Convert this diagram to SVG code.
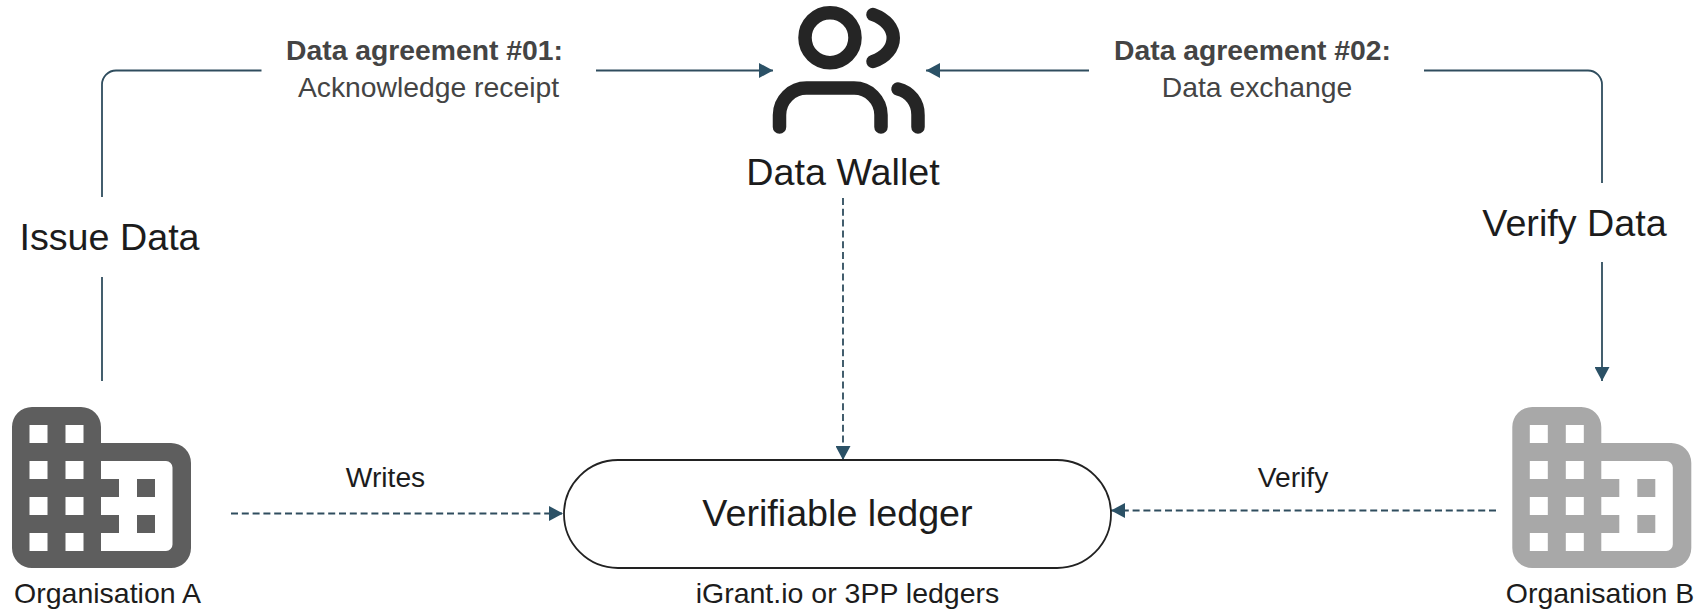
<svg xmlns="http://www.w3.org/2000/svg" width="1708" height="609" viewBox="0 0 1708 609">
<style>
text{font-family:"Liberation Sans",Arial,sans-serif;fill:#1c1c1c;text-anchor:middle}
.l{font-size:37.7px}.m{font-size:28.5px}.s{font-size:28.2px}
.h{font-size:28.3px;font-weight:bold;fill:#444}.g{font-size:28.3px;fill:#444}
.c{fill:none;stroke:#2f4d5e;stroke-width:1.8}
.d{stroke-dasharray:7 3.800}
.w{fill:#fff}
</style>
<defs>
<marker id="a" markerUnits="userSpaceOnUse" markerWidth="15" markerHeight="15" refX="14" refY="7.500" orient="auto"><path d="M0 0L14 7.500L0 15Z" fill="#2b5166"/></marker>
<g id="bld">
<path d="M12 427a20 20 0 0 1 20-20h49a20 20 0 0 1 20 20v16h70a20 20 0 0 1 20 20v85a20 20 0 0 1-20 20H32a20 20 0 0 1-20-20Z"/>
<path class="w" d="M101 461h65a6.500 6.500 0 0 1 6.500 6.500v77a6.500 6.500 0 0 1-6.500 6.500h-65v-18h18v-18h-18v-18h18v-18h-18Z"/>
<g class="w"><rect x="29.500" y="425" width="18" height="18"/><rect x="65.500" y="425" width="18" height="18"/><rect x="29.500" y="461" width="18" height="18"/><rect x="65.500" y="461" width="18" height="18"/><rect x="29.500" y="497" width="18" height="18"/><rect x="65.500" y="497" width="18" height="18"/><rect x="29.500" y="533" width="18" height="18"/><rect x="65.500" y="533" width="18" height="18"/></g>
<rect x="137" y="479" width="18" height="18"/><rect x="137" y="515" width="18" height="18"/>
</g>
</defs>
<rect width="1708" height="609" fill="#fff"/>
<g id="connectors">
<path class="c" d="M102 381V277"/>
<path class="c" d="M102 197V84.500a14 14 0 0 1 14-14H261.500"/>
<path class="c" d="M596 70.500H773" marker-end="url(#a)"/>
<path class="c" d="M1089 70.500H926" marker-end="url(#a)"/>
<path class="c" d="M1424 70.500h164a14 14 0 0 1 14 14V183"/>
<path class="c" d="M1602 262V381" marker-end="url(#a)"/>
<path class="c d" d="M843 198V460" marker-end="url(#a)"/>
<path class="c d" d="M231 513.500H563" marker-end="url(#a)"/>
<path class="c d" d="M1496 510.500H1111" marker-end="url(#a)"/>
</g>
<g id="org-a"><use href="#bld" fill="#5e5e5e"/><text class="m" x="107.500" y="603">Organisation A</text></g>
<g id="org-b"><use href="#bld" x="1500.300" fill="#a8a8a8"/><text class="m" x="1600" y="603">Organisation B</text></g>
<g id="wallet">
<g fill="none" stroke="#252525" stroke-width="13.500" stroke-linecap="round">
<circle cx="830" cy="37.700" r="25"/>
<path d="M873 14.500C900 24 900 52 873 61.500"/>
<path d="M779.500 127V115a27 27 0 0 1 27-27H854a27 27 0 0 1 27 27V127"/>
<path d="M898 89a26 26 0 0 1 20 26V127"/>
</g>
<text class="l" x="843" y="185">Data Wallet</text>
</g>
<g id="ledger">
<rect x="564" y="460" width="547" height="108" rx="54" fill="#fff" stroke="#222" stroke-width="1.800"/>
<text class="l" x="837.500" y="526">Verifiable ledger</text>
<text class="m" x="847.500" y="603">iGrant.io or 3PP ledgers</text>
</g>
<g id="labels">
<text class="h" x="424.500" y="60">Data agreement #01:</text>
<text class="g" x="428.500" y="97">Acknowledge receipt</text>
<text class="h" x="1252.500" y="60">Data agreement #02:</text>
<text class="g" x="1257" y="97">Data exchange</text>
<text class="l" x="109.500" y="250">Issue Data</text>
<text class="l" x="1574.500" y="236">Verify Data</text>
<text class="s" x="385.500" y="487">Writes</text>
<text class="s" x="1293" y="487">Verify</text>
</g>
</svg>
